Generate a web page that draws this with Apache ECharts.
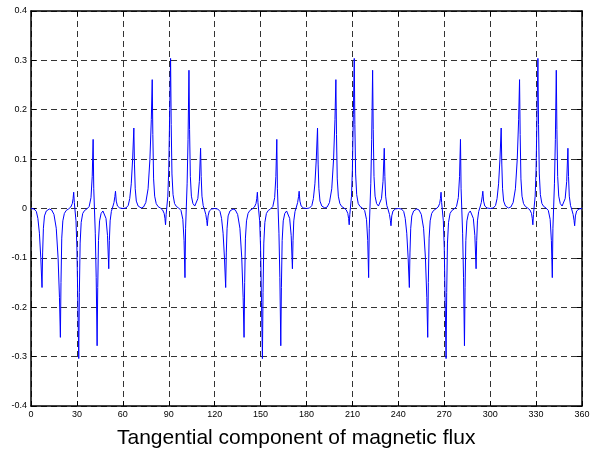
<!DOCTYPE html>
<html>
<head>
<meta charset="utf-8">
<script src="https://cdn.jsdelivr.net/npm/echarts@6/dist/echarts.min.js"></script>
<style>
html, body { margin: 0; padding: 0; background: #fff; }
#main { width: 595px; height: 449px; }
</style>
</head>
<body>
<div id="main"></div>
<script>
// tangential flux, one 120 degree period per array
var period1 = [
    [0,0],[2,-0.001],[3.5,-0.006],[4.5,-0.02],[5.5,-0.05],[6.4,-0.1],[7.2,-0.16],[7.6,-0.09],[8.1,-0.04],[8.8,-0.015],[10,-0.005],
    [12,-0.001],[13.5,-0.003],[15,-0.012],[16.5,-0.04],[17.7,-0.1],[18.6,-0.18],[19.2,-0.261],[19.6,-0.15],[20.1,-0.06],[20.8,-0.025],[21.8,-0.01],[23,-0.004],
    [24.5,-0.001],[26,0.003],[27,0.01],[27.5,0.02],[27.9,0.033],[28.3,0.012],[28.8,-0.005],[29.4,-0.025],[30,-0.08],[30.6,-0.19],[31.2,-0.304],[31.6,-0.17],[32.1,-0.07],[32.8,-0.028],[33.8,-0.01],[35,-0.004],
    [36.5,-0.001],[38,0.004],[39.2,0.022],[40,0.065],[40.6,0.14],[41,0.04],[41.5,-0.005],[42,-0.05],[42.6,-0.14],[43.2,-0.278],[43.6,-0.16],[44.1,-0.065],[44.8,-0.025],[45.8,-0.01],[47,-0.005],
    [48,-0.008],[49,-0.02],[50,-0.055],[50.8,-0.122],[51.2,-0.065],[51.7,-0.025],[52.5,-0.006],[53.4,0.003],[54.2,0.012],[54.8,0.024],[55.2,0.035],[55.7,0.015],[56.5,0.005],[58,0.001],
    [60,0],[62,0.001],[63.5,0.006],[64.5,0.02],[65.5,0.05],[66.4,0.1],[67.2,0.163],[67.6,0.09],[68.1,0.04],[68.8,0.015],[70,0.005],
    [72,0.001],[73.5,0.003],[75,0.012],[76.5,0.04],[77.7,0.1],[78.6,0.18],[79.2,0.261],[79.6,0.15],[80.1,0.06],[80.8,0.025],[81.8,0.01],[83,0.004],
    [84.5,0.001],[86,-0.003],[87,-0.01],[87.5,-0.02],[87.9,-0.033],[88.3,-0.012],[88.8,0.005],[89.4,0.025],[90,0.08],[90.6,0.19],[91.2,0.304],[91.6,0.17],[92.1,0.07],[92.8,0.028],[93.8,0.01],[95,0.004],
    [96.5,0.001],[98,-0.004],[99.2,-0.022],[100,-0.065],[100.6,-0.14],[101,-0.04],[101.5,0.005],[102,0.05],[102.6,0.14],[103.2,0.28],[103.6,0.16],[104.1,0.065],[104.8,0.025],[105.8,0.01],[107,0.005],
    [108,0.008],[109,0.02],[110,0.055],[110.8,0.122],[111.2,0.065],[111.7,0.025],[112.5,0.006],[113.4,-0.003],[114.2,-0.012],[114.8,-0.024],[115.2,-0.035],[115.7,-0.015],[116.5,-0.005],[118,-0.001]
];

var period2 = [
    [120,0],[122,-0.001],[123.5,-0.006],[124.5,-0.02],[125.5,-0.05],[126.4,-0.1],[127.2,-0.16],[127.6,-0.09],[128.1,-0.04],[128.8,-0.015],[130,-0.005],
    [132,-0.001],[133.5,-0.003],[135,-0.012],[136.5,-0.04],[137.7,-0.1],[138.6,-0.18],[139.2,-0.261],[139.6,-0.15],[140.1,-0.06],[140.8,-0.025],[141.8,-0.01],[143,-0.004],
    [144.5,-0.001],[146,0.003],[147,0.01],[147.5,0.02],[147.9,0.033],[148.3,0.012],[148.8,-0.005],[149.4,-0.025],[150,-0.08],[150.6,-0.19],[151.2,-0.304],[151.6,-0.17],[152.1,-0.07],[152.8,-0.028],[153.8,-0.01],[155,-0.004],
    [156.5,-0.001],[158,0.004],[159.2,0.022],[160,0.065],[160.6,0.14],[161,0.04],[161.5,-0.005],[162,-0.05],[162.6,-0.14],[163.2,-0.278],[163.6,-0.16],[164.1,-0.065],[164.8,-0.025],[165.8,-0.01],[167,-0.005],
    [168,-0.008],[169,-0.02],[170,-0.055],[170.8,-0.122],[171.2,-0.065],[171.7,-0.025],[172.5,-0.006],[173.4,0.003],[174.2,0.012],[174.8,0.024],[175.2,0.035],[175.7,0.015],[176.5,0.005],[178,0.001],
    [180,0],[182,0.001],[183.5,0.006],[184.5,0.02],[185.5,0.05],[186.4,0.1],[187.2,0.163],[187.6,0.09],[188.1,0.04],[188.8,0.015],[190,0.005],
    [192,0.001],[193.5,0.003],[195,0.012],[196.5,0.04],[197.7,0.1],[198.6,0.18],[199.2,0.261],[199.6,0.15],[200.1,0.06],[200.8,0.025],[201.8,0.01],[203,0.004],
    [204.5,0.001],[206,-0.003],[207,-0.01],[207.5,-0.02],[207.9,-0.033],[208.3,-0.012],[208.8,0.005],[209.4,0.025],[210,0.08],[210.6,0.19],[211.2,0.304],[211.6,0.17],[212.1,0.07],[212.8,0.028],[213.8,0.01],[215,0.004],
    [216.5,0.001],[218,-0.004],[219.2,-0.022],[220,-0.065],[220.6,-0.14],[221,-0.04],[221.5,0.005],[222,0.05],[222.6,0.14],[223.2,0.28],[223.6,0.16],[224.1,0.065],[224.8,0.025],[225.8,0.01],[227,0.005],
    [228,0.008],[229,0.02],[230,0.055],[230.8,0.122],[231.2,0.065],[231.7,0.025],[232.5,0.006],[233.4,-0.003],[234.2,-0.012],[234.8,-0.024],[235.2,-0.035],[235.7,-0.015],[236.5,-0.005],[238,-0.001]
];

var period3 = [
    [240,0],[242,-0.001],[243.5,-0.006],[244.5,-0.02],[245.5,-0.05],[246.4,-0.1],[247.2,-0.16],[247.6,-0.09],[248.1,-0.04],[248.8,-0.015],[250,-0.005],
    [252,-0.001],[253.5,-0.003],[255,-0.012],[256.5,-0.04],[257.7,-0.1],[258.6,-0.18],[259.2,-0.261],[259.6,-0.15],[260.1,-0.06],[260.8,-0.025],[261.8,-0.01],[263,-0.004],
    [264.5,-0.001],[266,0.003],[267,0.01],[267.5,0.02],[267.9,0.033],[268.3,0.012],[268.8,-0.005],[269.4,-0.025],[270,-0.08],[270.6,-0.19],[271.2,-0.304],[271.6,-0.17],[272.1,-0.07],[272.8,-0.028],[273.8,-0.01],[275,-0.004],
    [276.5,-0.001],[278,0.004],[279.2,0.022],[280,0.065],[280.6,0.14],[281,0.04],[281.5,-0.005],[282,-0.05],[282.6,-0.14],[283.2,-0.278],[283.6,-0.16],[284.1,-0.065],[284.8,-0.025],[285.8,-0.01],[287,-0.005],
    [288,-0.008],[289,-0.02],[290,-0.055],[290.8,-0.122],[291.2,-0.065],[291.7,-0.025],[292.5,-0.006],[293.4,0.003],[294.2,0.012],[294.8,0.024],[295.2,0.035],[295.7,0.015],[296.5,0.005],[298,0.001],
    [300,0],[302,0.001],[303.5,0.006],[304.5,0.02],[305.5,0.05],[306.4,0.1],[307.2,0.163],[307.6,0.09],[308.1,0.04],[308.8,0.015],[310,0.005],
    [312,0.001],[313.5,0.003],[315,0.012],[316.5,0.04],[317.7,0.1],[318.6,0.18],[319.2,0.261],[319.6,0.15],[320.1,0.06],[320.8,0.025],[321.8,0.01],[323,0.004],
    [324.5,0.001],[326,-0.003],[327,-0.01],[327.5,-0.02],[327.9,-0.033],[328.3,-0.012],[328.8,0.005],[329.4,0.025],[330,0.08],[330.6,0.19],[331.2,0.304],[331.6,0.17],[332.1,0.07],[332.8,0.028],[333.8,0.01],[335,0.004],
    [336.5,0.001],[338,-0.004],[339.2,-0.022],[340,-0.065],[340.6,-0.14],[341,-0.04],[341.5,0.005],[342,0.05],[342.6,0.14],[343.2,0.28],[343.6,0.16],[344.1,0.065],[344.8,0.025],[345.8,0.01],[347,0.005],
    [348,0.008],[349,0.02],[350,0.055],[350.8,0.122],[351.2,0.065],[351.7,0.025],[352.5,0.006],[353.4,-0.003],[354.2,-0.012],[354.8,-0.024],[355.2,-0.035],[355.7,-0.015],[356.5,-0.005],[358,-0.001],[360,0]
];

var xTickLabels = ['0', '30', '60', '90', '120', '150', '180', '210', '240', '270', '300', '330', '360'];
var yTickLabels = ['-0.4', '-0.3', '-0.2', '-0.1', '0', '0.1', '0.2', '0.3', '0.4'];
var caption = 'Tangential component of magnetic flux';

var main = document.getElementById('main');
var chart = echarts.init(main);

var tickFont = {
    color: '#000',
    fontFamily: '"Liberation Sans Narrow", "Liberation Sans", Arial, sans-serif',
    fontSize: 9
};
var gridDash = { color: '#333', width: 1, type: [6, 4] };
var frame = { show: true, onZero: false, lineStyle: { color: '#000', width: 1.5 } };
var inTick = { show: true, inside: true, length: 5, lineStyle: { color: '#000' } };

var option = {
    animation: false,
    backgroundColor: '#fff',
    title: {
        text: caption,
        left: 112,
        top: 423,
        textStyle: {
            color: '#000',
            fontFamily: '"Liberation Sans", Arial, sans-serif',
            fontWeight: 'normal',
            fontSize: 21
        }
    },
    grid: { left: 31, right: 13, top: 11, bottom: 43 },
    xAxis: [
        {
            type: 'value', min: 0, max: 360, interval: 30,
            axisLine: frame, axisTick: inTick,
            axisLabel: Object.assign({
                margin: 4,
                formatter: function (v) { return xTickLabels[Math.round(v / 30)]; }
            }, tickFont),
            splitLine: { show: true, lineStyle: gridDash }
        },
        {
            type: 'value', position: 'top', min: 0, max: 360, interval: 30,
            axisLine: frame, axisTick: inTick, axisLabel: { show: false }, splitLine: { show: false }
        }
    ],
    yAxis: [
        {
            type: 'value', min: -0.4, max: 0.4, interval: 0.1,
            axisLine: frame, axisTick: inTick,
            axisLabel: Object.assign({
                margin: 4,
                formatter: function (v) { return yTickLabels[Math.round(v * 10) + 4]; }
            }, tickFont),
            splitLine: { show: true, lineStyle: gridDash }
        },
        {
            type: 'value', position: 'right', min: -0.4, max: 0.4, interval: 0.1,
            axisLine: frame, axisTick: inTick, axisLabel: { show: false }, splitLine: { show: false }
        }
    ],
    series: [
        {
            type: 'line',
            showSymbol: false,
            data: period1.concat(period2, period3),
            lineStyle: { color: '#0000ff', width: 1 },
            z: 5
        }
    ]
};

chart.setOption(option);
</script>
</body>
</html>
